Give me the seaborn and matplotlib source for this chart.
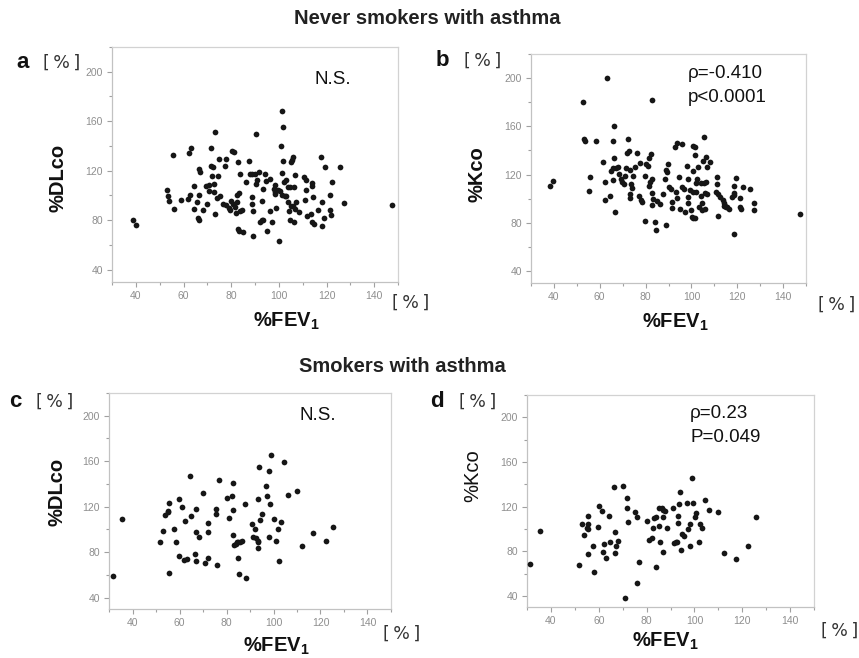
import matplotlib
matplotlib.use("Agg")
import matplotlib.pyplot as plt
import seaborn as sns
import pandas as pd
from matplotlib.ticker import MultipleLocator

# ---------------------------------------------------------------- data
# Never smokers with asthma: %FEV1 vs %DLco
fev1_ns_dlco = [
    38.9, 40.0, 52.9, 53.3, 53.8, 55.4, 55.9, 58.9, 62.4, 63.1,
    62.0, 62.7, 64.6, 64.5, 65.5, 66.3, 66.9, 66.4, 66.2, 66.4,
    68.1, 69.4, 69.8, 70.6, 70.8, 71.5, 71.7, 72.4, 72.0, 72.9,
    72.9, 73.4, 74.4, 73.4, 74.0, 74.8, 75.5, 77.3, 78.0, 76.6,
    77.8, 78.9, 79.4, 80.4, 81.1, 80.0, 80.8, 81.5, 81.9, 82.4,
    83.1, 82.8, 82.5, 82.9, 83.4, 83.6, 83.9, 84.5, 84.9, 86.4,
    87.6, 87.8, 88.8, 88.8, 88.7, 89.0, 89.1, 90.3, 89.9, 90.3,
    90.9, 91.7, 92.0, 92.9, 93.4, 93.0, 93.4, 94.3, 94.8, 95.2,
    96.2, 96.4, 97.2, 98.3, 98.0, 98.5, 98.3, 98.7, 99.7, 100.1,
    100.4, 101.1, 101.5, 101.8, 101.4, 101.8, 102.1, 101.5, 102.5, 102.8,
    102.9, 103.8, 103.9, 104.2, 104.6, 104.9, 104.8, 105.3, 105.7, 106.0,
    106.0, 106.2, 106.4, 106.6, 107.0, 106.7, 108.4, 110.7, 111.3, 111.0,
    111.3, 111.9, 113.4, 113.8, 114.0, 113.8, 114.4, 114.9, 116.6, 117.9,
    118.3, 118.3, 119.3, 118.9, 121.4, 121.5, 121.7, 122.4, 125.6, 127.4,
    147.3,
]
dlco_ns = [
    80.4, 75.8, 104.6, 99.7, 95.7, 132.8, 89.2, 96.2, 134.7, 138.2,
    97.0, 100.0, 107.3, 89.2, 94.3, 121.3, 119.0, 100.3, 81.7, 80.4,
    88.4, 108.0, 93.3, 108.1, 103.2, 138.2, 124.0, 122.6, 115.3, 109.4,
    102.4, 151.6, 115.9, 85.2, 97.8, 129.6, 99.7, 124.0, 129.6, 93.3,
    91.9, 89.8, 88.4, 136.3, 135.5, 95.7, 93.3, 90.6, 85.8, 100.5,
    101.9, 127.4, 94.6, 73.1, 71.5, 117.5, 87.1, 88.4, 70.4, 110.8,
    128.0, 117.5, 117.5, 98.7, 93.0, 87.1, 67.2, 149.7, 117.5, 109.4,
    112.1, 118.8, 78.2, 79.8, 105.1, 95.2, 79.8, 117.5, 111.8, 70.9,
    87.1, 113.4, 78.5, 108.6, 105.4, 102.7, 101.3, 89.8, 104.6, 63.4,
    103.2, 140.3, 168.5, 155.1, 118.5, 128.0, 110.5, 100.5, 99.7, 112.1,
    99.7, 106.5, 94.6, 87.1, 106.5, 91.1, 79.8, 126.9, 128.8, 130.9,
    91.1, 78.5, 106.5, 116.7, 94.3, 89.2, 86.3, 114.5, 112.6, 96.0,
    104.6, 83.6, 85.0, 109.9, 108.0, 78.5, 98.4, 77.2, 88.4, 130.9,
    75.5, 94.3, 122.9, 81.7, 100.5, 88.4, 83.9, 110.5, 122.9, 93.8,
    92.0,
]

# Never smokers with asthma: %FEV1 vs %Kco
fev1_ns_kco = [
    38.5, 39.7, 52.5, 53.1, 53.6, 58.4, 55.2, 55.7, 61.3, 62.3,
    62.3, 63.0, 64.5, 64.9, 65.8, 65.7, 65.9, 66.4, 66.4, 66.7,
    67.0, 67.8, 68.6, 69.3, 69.9, 70.6, 71.0, 71.5, 72.1, 72.4,
    72.7, 73.0, 73.0, 73.0, 73.7, 74.1, 74.4, 75.4, 76.2, 77.6,
    77.3, 77.8, 78.6, 79.8, 79.8, 80.2, 81.1, 81.4, 82.0, 81.7,
    82.3, 82.7, 82.6, 82.7, 82.6, 83.4, 84.2, 84.6, 84.9, 86.4,
    87.4, 88.3, 88.7, 89.3, 89.6, 89.0, 90.4, 91.3, 91.5, 91.7,
    92.9, 93.6, 93.1, 93.9, 94.4, 95.1, 96.1, 95.8, 96.6, 97.3,
    98.0, 98.3, 98.3, 98.7, 99.5, 99.8, 100.2, 100.9, 101.7, 100.6,
    101.7, 101.7, 100.9, 100.9, 101.9, 102.1, 102.4, 102.8, 103.1, 104.1,
    104.1, 104.6, 104.6, 105.0, 105.3, 105.6, 106.0, 106.0, 106.2, 106.8,
    106.5, 106.8, 108.2, 111.1, 111.1, 110.8, 111.4, 111.8, 112.5, 113.7,
    114.0, 114.3, 114.7, 115.2, 115.5, 116.6, 117.7, 118.4, 118.4, 118.7,
    119.4, 118.4, 121.0, 121.3, 121.6, 122.4, 125.7, 127.5, 127.5, 147.3,
]
kco_ns = [
    110.7, 114.9, 179.8, 149.3, 147.9, 148.1, 106.5, 117.6, 130.1, 113.5,
    98.8, 200.0, 102.4, 123.2, 125.1, 115.4, 147.9, 133.4, 160.6, 88.9,
    125.7, 126.0, 120.4, 116.3, 114.0, 111.8, 119.0, 125.7, 137.6, 149.5,
    139.6, 103.5, 100.2, 123.7, 112.1, 108.5, 119.0, 126.0, 137.6, 129.3,
    102.4, 98.8, 96.8, 81.6, 119.0, 128.5, 127.1, 110.7, 113.5, 134.0,
    136.8, 182.0, 116.3, 104.3, 94.6, 99.6, 80.2, 73.8, 98.2, 95.2,
    103.8, 116.3, 123.7, 121.8, 128.5, 78.0, 109.9, 107.9, 97.4, 92.4,
    142.6, 146.5, 105.7, 100.2, 118.2, 91.8, 145.4, 109.9, 107.9, 88.9,
    127.1, 116.3, 101.0, 96.0, 107.1, 90.3, 84.9, 84.0, 84.0, 144.0,
    143.2, 136.2, 122.9, 105.2, 105.2, 112.6, 116.0, 126.5, 93.2, 112.6,
    102.4, 96.0, 90.3, 131.2, 150.9, 112.6, 104.3, 91.0, 134.8, 126.5,
    113.5, 103.5, 130.1, 118.2, 111.8, 105.7, 103.8, 85.5, 101.0, 98.8,
    96.0, 94.1, 94.1, 93.2, 92.7, 91.8, 101.6, 110.4, 102.9, 104.9,
    117.4, 71.0, 100.2, 93.2, 91.8, 109.9, 107.7, 96.6, 90.5, 86.9,
]

# Smokers with asthma: %FEV1 vs %DLco
fev1_sm_dlco = [
    31.8, 35.7, 51.6, 53.0, 54.0, 54.9, 55.2, 55.7, 55.6, 57.6,
    58.3, 59.7, 59.9, 61.1, 62.3, 62.0, 63.0, 64.4, 64.8, 66.5,
    67.0, 67.1, 67.2, 68.2, 70.1, 70.9, 72.1, 72.2, 72.2, 75.5,
    75.7, 76.0, 76.7, 80.1, 81.1, 82.4, 82.8, 82.7, 82.8, 83.3,
    84.0, 84.5, 85.1, 85.7, 86.4, 85.0, 85.4, 88.5, 87.8, 90.9,
    92.1, 91.3, 92.5, 93.2, 93.6, 93.2, 93.5, 93.8, 94.2, 95.0,
    96.7, 97.4, 98.0, 98.4, 98.2, 99.1, 100.3, 100.9, 102.0, 102.4,
    103.0, 104.4, 106.1, 109.8, 112.2, 116.9, 122.3, 125.4,
]
dlco_sm = [
    59.1, 109.1, 89.1, 98.8, 112.6, 115.0, 116.5, 122.9, 62.0, 100.0,
    89.1, 126.8, 76.8, 119.4, 107.6, 72.9, 74.4, 147.4, 112.1, 78.8,
    97.9, 117.9, 72.1, 92.9, 131.8, 70.6, 97.9, 105.9, 75.0, 113.2,
    117.6, 69.1, 143.5, 127.9, 110.3, 129.7, 95.0, 141.2, 117.1, 86.2,
    87.1, 88.5, 88.8, 89.1, 89.7, 75.3, 60.6, 57.4, 122.4, 104.7,
    100.3, 93.5, 92.1, 90.0, 88.5, 83.8, 126.5, 155.3, 108.2, 113.2,
    138.5, 129.4, 151.8, 122.1, 92.9, 165.6, 109.1, 90.0, 100.0, 72.4,
    106.2, 159.1, 130.3, 134.1, 85.6, 96.5, 90.0, 102.4,
]

# Smokers with asthma: %FEV1 vs %Kco
fev1_sm_kco = [
    31.4, 35.6, 51.7, 53.2, 54.0, 55.0, 55.3, 55.6, 55.6, 55.6,
    57.6, 58.2, 59.9, 59.6, 61.3, 61.7, 62.1, 63.1, 64.3, 64.9,
    66.8, 66.5, 66.8, 67.1, 67.9, 70.0, 70.8, 71.9, 71.9, 72.4,
    75.1, 75.8, 75.8, 76.8, 80.3, 81.1, 82.2, 82.8, 83.2, 83.9,
    83.8, 85.3, 85.6, 85.3, 86.3, 86.7, 86.9, 87.8, 86.7, 88.6,
    91.1, 91.5, 92.2, 92.9, 93.2, 93.2, 93.5, 93.9, 94.2, 94.6,
    95.6, 96.9, 97.4, 98.1, 98.3, 98.8, 99.4, 100.4, 100.8, 101.9,
    102.5, 103.1, 104.4, 106.1, 109.9, 112.2, 117.2, 122.4, 125.6,
]
kco_sm = [
    68.5, 98.1, 67.6, 104.1, 94.5, 101.1, 111.6, 104.1, 99.6, 77.5,
    84.6, 61.0, 120.6, 101.4, 116.4, 79.0, 86.4, 73.6, 111.6, 87.9,
    97.5, 137.1, 78.1, 84.6, 89.4, 138.6, 38.2, 128.1, 118.5, 105.9,
    114.9, 111.0, 51.1, 70.6, 107.4, 90.0, 91.5, 100.5, 109.5, 111.0,
    65.5, 102.9, 87.9, 119.1, 118.5, 111.0, 117.0, 116.1, 79.6, 100.5,
    118.5, 87.0, 87.9, 87.9, 111.6, 105.0, 122.1, 132.9, 81.0, 95.1,
    93.9, 123.0, 99.9, 104.4, 84.9, 145.5, 123.6, 111.0, 114.0, 87.9,
    104.4, 100.5, 126.0, 117.0, 114.9, 78.1, 72.7, 84.6, 110.4,
]

x_ticks = [40, 60, 80, 100, 120, 140]
y_ticks = [40, 80, 120, 160, 200]

# ---------------------------------------------------------------- style
sns.set_theme(style="white")
plt.rcParams["font.family"] = ["Liberation Sans", "DejaVu Sans"]
plt.rcParams["mathtext.fontset"] = "custom"
plt.rcParams["mathtext.rm"] = "Liberation Sans"
plt.rcParams["mathtext.bf"] = "Liberation Sans:bold"

W, H = 859, 658
fig = plt.figure(figsize=(W / 100, H / 100), dpi=100)
fig.patch.set_facecolor("white")


def ftext(x, y, s, **kw):
    """Place text using pixel coordinates measured from the top-left."""
    return fig.text(x / W, 1 - y / H, s, **kw)


def panel(box, x, y):
    left, top, right, bottom = box
    ax = fig.add_axes([left / W, 1 - bottom / H, (right - left) / W, (bottom - top) / H])
    df = pd.DataFrame({"fev1": x, "value": y})
    sns.scatterplot(data=df, x="fev1", y="value", ax=ax, color="#161616",
                    s=17, linewidth=0, legend=False, zorder=3)
    ax.set_xlim(30, 150)
    ax.set_ylim(30, 220)
    ax.set_xticks(x_ticks)
    ax.set_yticks(y_ticks)
    ax.xaxis.set_minor_locator(MultipleLocator(10))
    ax.yaxis.set_minor_locator(MultipleLocator(20))
    ax.tick_params(which="both", direction="out", color="#a0a0a0", width=0.8,
                   bottom=True, left=True, labelcolor="#8e8e8e", labelsize=7.5, pad=3)
    ax.tick_params(which="major", length=3.5)
    ax.tick_params(which="minor", length=2)
    for sp in ax.spines.values():
        sp.set_color("#d2d2d2")
        sp.set_linewidth(0.9)
    ax.spines["left"].set_color("#c2c2c2")
    ax.spines["bottom"].set_color("#c2c2c2")
    ax.set_xlabel("")
    ax.set_ylabel("")
    ax.grid(False)
    return ax


ax_a = panel((112, 47, 398, 282), fev1_ns_dlco, dlco_ns)
ax_b = panel((531, 54, 806, 283), fev1_ns_kco, kco_ns)
ax_c = panel((109, 393, 391, 609), fev1_sm_dlco, dlco_sm)
ax_d = panel((527, 395, 814, 607), fev1_sm_kco, kco_sm)

# ---------------------------------------------------------------- text
title_kw = dict(fontsize=14.5, fontweight="bold", color="#222222", ha="center", va="center")
ftext(427, 19, "Never smokers with asthma", **title_kw)
ftext(402, 366, "Smokers with asthma", **title_kw)

UNIT = "[\u2009%\u2009]"
letter_kw = dict(fontsize=16, fontweight="bold", color="#111111", ha="center", va="center")
unit_kw = dict(fontsize=12.5, family=["DejaVu Sans"], color="#333333",
               ha="center", va="center")
for (lx, ly, letter), (ux, uy) in zip(
        [(23, 62, "a"), (442, 61, "b"), (15, 402, "c"), (437, 402, "d")],
        [(62, 63), (483, 61), (55, 402), (478, 402)]):
    ftext(lx, ly, letter, **letter_kw)
    ftext(ux, uy, UNIT, **unit_kw)

# x-axis unit marks
for ux, uy in [(411, 303), (837, 305), (402, 634), (840, 631)]:
    ftext(ux, uy, UNIT, **unit_kw)

# x-axis titles
xlab_kw = dict(fontsize=14.5, fontweight="bold", color="#111111", ha="left", va="baseline")
for sx, by in [(253, 327), (642, 328), (243, 652), (632, 647)]:
    ftext(sx, by, r"%FEV$_\mathbf{1}$", **xlab_kw)

# y-axis titles
ylab_kw = dict(fontsize=14.5, color="#111111", ha="center", va="center", rotation=90)
ftext(58, 178, "%DLco", fontweight="bold", **ylab_kw)
ftext(477, 174, "%Kco", fontweight="bold", **ylab_kw)
ftext(57, 492, "%DLco", fontweight="bold", **ylab_kw)
ftext(473, 476, "%Kco", fontweight="normal", **ylab_kw)

# statistics
stat_kw = dict(fontsize=13.5, color="#111111", va="center")
ftext(333, 80, "N.S.", ha="center", **stat_kw)
ftext(318, 415, "N.S.", ha="center", **stat_kw)
ftext(688, 74, "ρ=-0.410", ha="left", **stat_kw)
ftext(688, 98, "p<0.0001", ha="left", **stat_kw)
ftext(690, 413, "ρ=0.23", ha="left", **stat_kw)
ftext(690, 438, "P=0.049", ha="left", **stat_kw)

fig.savefig("out.png", dpi=100, facecolor="white")
